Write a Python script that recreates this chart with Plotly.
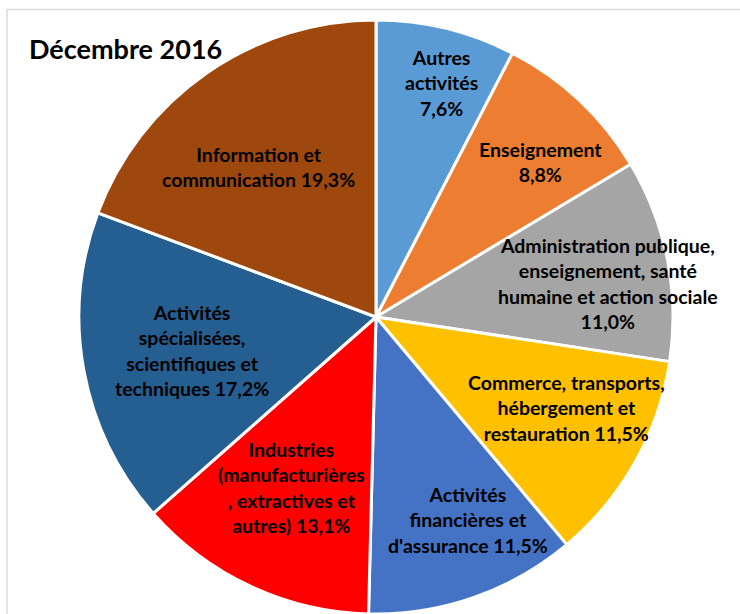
import math
import plotly.graph_objects as go

# ---- data ----
categories = [
    "Autres activités",
    "Enseignement",
    "Administration publique, enseignement, santé humaine et action sociale",
    "Commerce, transports, hébergement et restauration",
    "Activités financières et d'assurance",
    "Industries (manufacturières, extractives et autres)",
    "Activités spécialisées, scientifiques et techniques",
    "Information et communication",
]
values = [7.6, 8.8, 11.0, 11.5, 11.5, 13.1, 17.2, 19.3]
label_lines = [
    "Autres<br>activités<br>{p}",
    "Enseignement<br>{p}",
    "Administration publique,<br>enseignement, santé<br>humaine et action sociale<br>{p}",
    "Commerce, transports,<br>hébergement et<br>restauration {p}",
    "Activités<br>financières et<br>d'assurance {p}",
    "Industries<br>(manufacturières<br>, extractives et<br>autres) {p}",
    "Activités<br>spécialisées,<br>scientifiques et<br>techniques {p}",
    "Information et<br>communication {p}",
]
title_text = "Décembre 2016"

# ---- style ----
colors = ["#5B9BD5", "#ED7D31", "#A5A5A5", "#FFC000", "#4472C4", "#FF0000", "#255E91", "#9E480E"]
label_r = [0.82, 0.76, 0.79, 0.71, 0.75, 0.64, 0.63, 0.64]
label_da = [2.0, 3.4, 3.0, -3.8, -5.0, 1.3, 0.0, -3.3]
FONT = "Lato"
W, H = 740, 614
dom_x = [79 / W, 673 / W]
dom_y = [0.0, 1 - 20 / H]

fig = go.Figure(go.Pie(
    labels=categories,
    values=values,
    sort=False,
    direction="clockwise",
    rotation=0,
    marker=dict(colors=colors, line=dict(color="white", width=3)),
    textinfo="none",
    hoverinfo="label+percent",
    showlegend=False,
    domain=dict(x=dom_x, y=dom_y),
))

# label positions derived from the slice angles
cx = (dom_x[0] + dom_x[1]) / 2 * W
cy = (1 - (dom_y[0] + dom_y[1]) / 2) * H
R = min((dom_x[1] - dom_x[0]) * W, (dom_y[1] - dom_y[0]) * H) / 2
total = sum(values)
cum = 0.0
annotations = []
for v, fmt, rf, da in zip(values, label_lines, label_r, label_da):
    mid = (cum + v / 2) / total * 360 + da
    cum += v
    px = cx + rf * R * math.sin(math.radians(mid))
    py = cy - rf * R * math.cos(math.radians(mid))
    pct = f"{v:.1f}".replace(".", ",") + "%"
    annotations.append(dict(
        x=px / W, y=1 - py / H, xref="paper", yref="paper",
        text="<b>" + fmt.format(p=pct) + "</b>", showarrow=False,
        xanchor="center", yanchor="middle", align="center",
        font=dict(family=FONT, size=19.5, color="black"),
    ))

annotations.append(dict(
    x=27 / W, y=1 - 48 / H, xref="paper", yref="paper",
    text="<b>" + title_text + "</b>", showarrow=False,
    xanchor="left", yanchor="middle",
    font=dict(family=FONT, size=27, color="black"),
))

fig.update_layout(
    width=W, height=H,
    margin=dict(l=0, r=0, t=0, b=0),
    paper_bgcolor="white",
    plot_bgcolor="white",
    annotations=annotations,
    shapes=[dict(type="rect", xref="paper", yref="paper",
                 x0=7 / W, x1=1.05, y0=-0.05, y1=1 - 9.5 / H,
                 line=dict(color="#D9D9D9", width=1.5), layer="below")],
)

fig.write_html(
    "out.html",
    config={"displayModeBar": False},
    post_script="document.body.style.margin='0';document.body.style.overflow='hidden';",
)
